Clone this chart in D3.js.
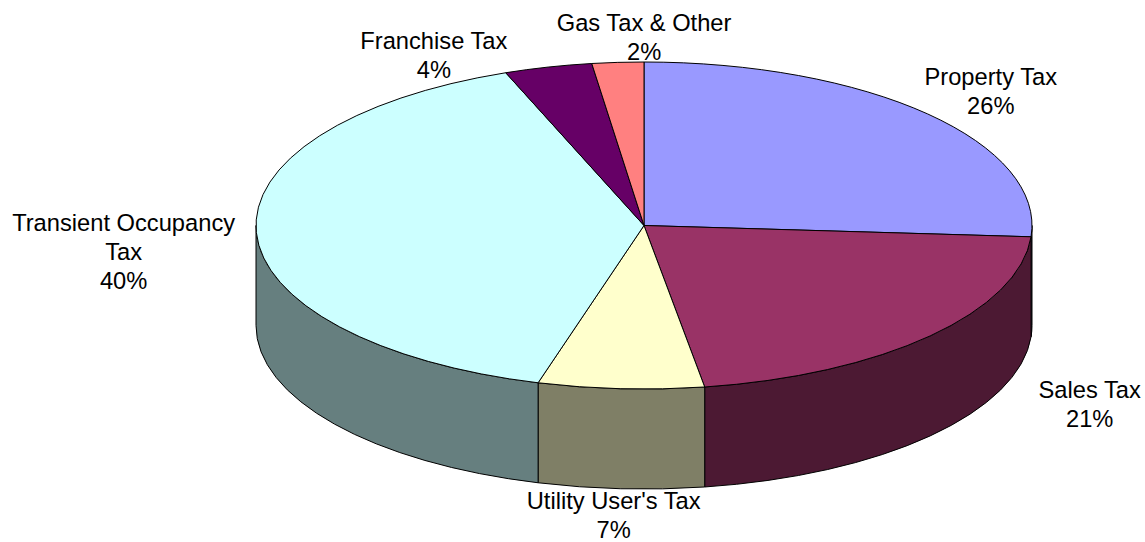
<!DOCTYPE html>
<html>
<head>
<meta charset="utf-8">
<script src="https://cdn.jsdelivr.net/npm/d3@7"></script>
<style>
  body { margin: 0; background: #fff; }
  text { font-family: Arial, "Liberation Sans", sans-serif; fill: #000; }
</style>
</head>
<body>
<div id="chart"></div>
<script>
var w = 1145;
var h = 542;

// data (percent of total)
var categories = ["Property Tax", "Sales Tax", "Utility User's Tax", "Transient Occupancy Tax", "Franchise Tax", "Gas Tax & Other"];
var values = [26.1, 21.4, 6.9, 39.8, 3.65, 2.15];
var colors = ["#9999FF", "#993366", "#FFFFCC", "#CCFFFF", "#660066", "#FF8080"];
var labelLines = [["Property Tax"], ["Sales Tax"], ["Utility User's Tax"], ["Transient Occupancy", "Tax"], ["Franchise Tax"], ["Gas Tax & Other"]];

// layout of the tilted pie
var cx = 644, cy = 225.5;
var rx = 388, ry = 163.5;
var depth = 100;
var lineH = 29;
// small nudges for label placement, per slice
var labelNudge = [[12, -2], [108, -51], [-3, -3], [-63, -82], [-97, 17], [31, 4]];

var svg = d3.select("#chart")
    .append("svg")
    .attr("width", w)
    .attr("height", h);

var pie = d3.pie().sort(null).value(function(d) { return d; });
var arcsData = pie(values);

function pt(a, dy) {
    return [cx + rx * Math.sin(a), cy - ry * Math.cos(a) + (dy || 0)];
}

function topPath(d) {
    var p0 = pt(d.startAngle), p1 = pt(d.endAngle);
    var large = (d.endAngle - d.startAngle) > Math.PI ? 1 : 0;
    return "M" + cx + "," + cy + "L" + p0 + "A" + rx + "," + ry + " 0 " + large + " 1 " + p1 + "Z";
}

function sidePath(d) {
    var a0 = Math.max(d.startAngle, Math.PI / 2);
    var a1 = Math.min(d.endAngle, Math.PI * 3 / 2);
    if (a1 <= a0) return null;
    var t0 = pt(a0), t1 = pt(a1), b0 = pt(a0, depth), b1 = pt(a1, depth);
    return "M" + t0 + "A" + rx + "," + ry + " 0 0 1 " + t1 +
        "L" + b1 + "A" + rx + "," + ry + " 0 0 0 " + b0 + "Z";
}

// side walls (darker shade of slice colour)
svg.selectAll("path.side")
    .data(arcsData.filter(function(d) { return sidePath(d) !== null; }))
    .enter()
    .append("path")
    .attr("class", "side")
    .attr("d", sidePath)
    .attr("fill", function(d) { return d3.color(colors[d.index]).darker(1.95); })
    .attr("stroke", "#000")
    .attr("stroke-width", 1)
    .attr("stroke-linejoin", "round");

// top faces
svg.selectAll("path.top")
    .data(arcsData)
    .enter()
    .append("path")
    .attr("class", "top")
    .attr("d", topPath)
    .attr("fill", function(d) { return colors[d.index]; })
    .attr("stroke", "#000")
    .attr("stroke-width", 1)
    .attr("stroke-linejoin", "round");

// labels
var labels = svg.selectAll("text.lbl")
    .data(arcsData)
    .enter()
    .append("text")
    .attr("class", "lbl")
    .attr("text-anchor", "middle")
    .attr("font-size", 23.7)
    .attr("transform", function(d) {
        var mid = (d.startAngle + d.endAngle) / 2;
        var x = cx + rx * 1.18 * Math.sin(mid) + labelNudge[d.index][0];
        var y = cy - ry * 1.18 * Math.cos(mid) + (Math.cos(mid) < 0 ? depth : 0) + labelNudge[d.index][1];
        var lines = labelLines[d.index].length + 1;
        var first = y - (lines - 1) * lineH / 2 + 8;
        return "translate(" + x + "," + first + ")";
    });

labels.each(function(d) {
    var t = d3.select(this);
    var lines = labelLines[d.index].concat([Math.round(d.value) + "%"]);
    lines.forEach(function(s, i) {
        t.append("tspan").attr("x", 0).attr("y", i * lineH).text(s);
    });
});
</script>
</body>
</html>
